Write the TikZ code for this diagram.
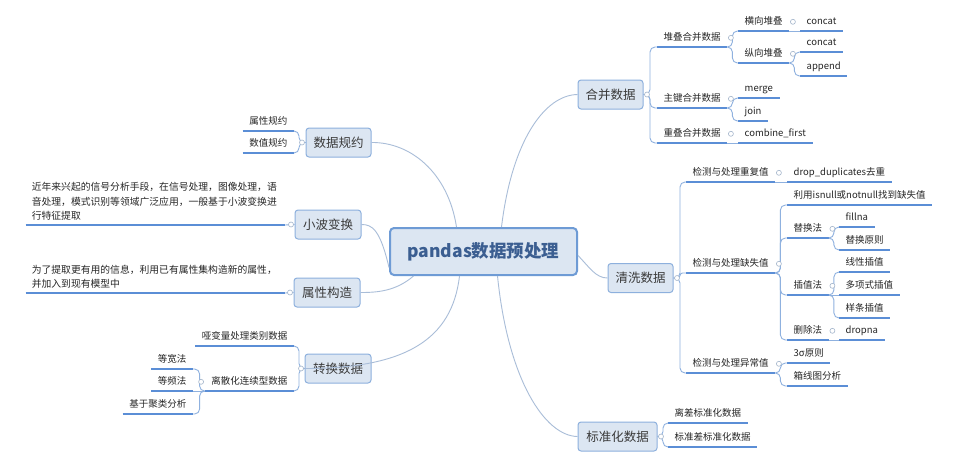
\documentclass[tikz,border=0pt]{standalone}
\usepackage{fontspec}
\setmainfont{Noto Sans CJK SC}
\usetikzlibrary{calc}
\definecolor{ulc}{HTML}{5B8ED6}
\definecolor{brc}{HTML}{8FB1DF}
\definecolor{cnc}{HTML}{A9BDD8}
\definecolor{boxf}{HTML}{DCE6F2}
\definecolor{boxd}{HTML}{8DB0DD}
\definecolor{cend}{HTML}{6E9BD5}
\definecolor{cent}{HTML}{3B5E91}
\definecolor{txt}{HTML}{262626}
\definecolor{toptxt}{HTML}{3A3A3A}
\definecolor{dotc}{HTML}{A3B5CB}
\begin{document}
\begin{tikzpicture}[x=1pt,y=-1pt,
 lab/.style={font=\fontsize{9.5}{11}\selectfont, text=txt, inner xsep=6.5pt, inner ysep=4pt, text height=8pt, text depth=2pt},
 longlab/.style={font=\fontsize{9.8}{14.5}\selectfont, text=txt, inner xsep=6pt, inner ysep=4pt, align=left, text width=247pt},
 topic/.style={draw=boxd, fill=boxf, line width=1pt, rounded corners=3pt, font=\fontsize{12.5}{14}\selectfont, text=toptxt, minimum height=29pt, minimum width=65pt, inner sep=0pt},
 ctr/.style={draw=cend, fill=boxf, line width=2pt, rounded corners=4pt, font=\fontsize{17.5}{20}\selectfont\bfseries, text=cent, minimum width=187pt, minimum height=47pt, inner sep=0pt},
 ul/.style={draw=ulc, line width=1.6pt},
 br/.style={draw=brc, line width=0.9pt, rounded corners=5pt},
 cn/.style={draw=cnc, line width=0.9pt},
 dot/.style={draw=dotc, fill=white, line width=0.6pt}]
\path[use as bounding box, fill=white] (0,0) rectangle (965,467);

% central
\node[ctr] (c) at (483.5,251.5) {pandas数据预处理};

% main topics
\node[topic] (hb) at (610.5,94.5) {合并数据};
\node[topic] (qx) at (640.5,278) {清洗数据};
\node[topic, minimum width=79pt] (bz) at (617.5,436.5) {标准化数据};
\node[topic] (sj) at (338.5,142.5) {数据规约};
\node[topic, minimum width=66pt] (xb) at (328,224.5) {小波变换};
\node[topic, minimum width=66pt] (sg) at (327,292.5) {属性构造};
\node[topic, minimum width=66pt] (zh) at (338,368.5) {转换数据};

% central connectors
\draw[cn] ([xshift=18pt]c.north) .. controls (512,140) and (545,95) .. (hb.west);
\draw[cn] ([yshift=-4pt]c.east) .. controls (590,268) and (596,278) .. (qx.west);
\draw[cn] ([xshift=14pt]c.south) .. controls (508,380) and (545,436) .. (bz.west);
\draw[cn] ([xshift=-27pt]c.north) .. controls (448,172) and (410,142) .. (sj.east);
\draw[cn] ([yshift=-16pt]c.west) .. controls (380,229) and (372,224.5) .. (xb.east);
\draw[cn] ([xshift=-70pt]c.south) .. controls (396,291) and (378,292.5) .. (sg.east);
\draw[cn] ([xshift=-24pt]c.south) .. controls (452,340) and (405,368.5) .. (zh.west);

% ---- 合并数据
\node[lab, anchor=south west] (dd) at (657,47) {堆叠合并数据};
\node[lab, anchor=south west] (hx) at (738,31) {横向堆叠};
\node[lab, anchor=south west] (c1) at (800,31) {concat};
\node[lab, anchor=south west] (zx) at (738,63) {纵向堆叠};
\node[lab, anchor=south west] (c2) at (800,52) {concat};
\node[lab, anchor=south west] (ap) at (800,76) {append};
\node[lab, anchor=south west] (zj) at (657,108) {主键合并数据};
\node[lab, anchor=south west] (mg) at (738,98) {merge};
\node[lab, anchor=south west] (jn) at (738,121) {join};
\node[lab, anchor=south west] (cd) at (657,143) {重叠合并数据};
\node[lab, anchor=south west] (cf) at (738,143) {combine\_first};

% ---- 清洗数据
\node[lab, anchor=south west] (cf1) at (686,182) {检测与处理重复值};
\node[lab, anchor=south west] (dup) at (787,182) {drop\_duplicates去重};
\node[lab, anchor=south west] (qs) at (686,273) {检测与处理缺失值};
\node[lab, anchor=south west] (isn) at (787,205) {利用isnull或notnull找到缺失值};
\node[lab, anchor=south west] (th) at (787,238) {替换法};
\node[lab, anchor=south west] (fil) at (839,227) {fillna};
\node[lab, anchor=south west] (thy) at (839,250) {替换原则};
\node[lab, anchor=south west] (cz) at (787,295) {插值法};
\node[lab, anchor=south west] (xx) at (839,272) {线性插值};
\node[lab, anchor=south west] (dx) at (839,295) {多项式插值};
\node[lab, anchor=south west] (yt) at (839,318) {样条插值};
\node[lab, anchor=south west] (sc) at (787,340) {删除法};
\node[lab, anchor=south west] (dn) at (839,340) {dropna};
\node[lab, anchor=south west] (yc) at (686,373) {检测与处理异常值};
\node[lab, anchor=south west] (sgm) at (787,363) {3σ原则};
\node[lab, anchor=south west] (xxt) at (787,386) {箱线图分析};

% ---- 标准化数据
\node[lab, anchor=south west] (lc) at (668,423) {离差标准化数据};
\node[lab, anchor=south west] (bzc) at (668,447) {标准差标准化数据};

% ---- left side
\node[lab, anchor=south east] (sx) at (294,131) {属性规约};
\node[lab, anchor=south east] (sz) at (294,153) {数值规约};
\node[longlab, anchor=south east] (wb) at (285,225) {近年来兴起的信号分析手段，在信号处理，图像处理，语\\音处理，模式识别等领域广泛应用，一般基于小波变换进\\行特征提取};
\node[longlab, anchor=south east] (gz) at (285,293) {为了提取更有用的信息，利用已有属性集构造新的属性，\\并加入到现有模型中};
\node[lab, anchor=south east] (yb) at (294,346) {哑变量处理类别数据};
\node[lab, anchor=south east] (ls) at (294,391) {离散化连续型数据};
\node[lab, anchor=south east] (dk) at (193,369) {等宽法};
\node[lab, anchor=south east] (dp) at (193,391) {等频法};
\node[lab, anchor=south east] (jy) at (193,414) {基于聚类分析};

% underlines
\foreach \n in {dd,hx,c1,zx,c2,ap,zj,mg,jn,cd,cf,cf1,dup,qs,isn,th,fil,thy,cz,xx,dx,yt,sc,dn,yc,sgm,xxt,lc,bzc,sx,sz,wb,gz,yb,ls,dk,dp,jy}
  \draw[ul] (\n.south west) -- (\n.south east);

% brackets: right side
\coordinate (Jhb) at (650,94.5);
\foreach \k in {dd,zj,cd} \draw[br] (hb.east) -- (Jhb) |- (\k.south west);
\coordinate (Jdd) at ($(dd.south east)+(5,0)$);
\foreach \k in {hx,zx} \draw[br] (dd.south east) -- (Jdd) |- (\k.south west);
\draw[br] (hx.south east) -- (c1.south west);
\coordinate (Jzx) at ($(zx.south east)+(5,0)$);
\foreach \k in {c2,ap} \draw[br] (zx.south east) -- (Jzx) |- (\k.south west);
\coordinate (Jzj) at ($(zj.south east)+(5,0)$);
\foreach \k in {mg,jn} \draw[br] (zj.south east) -- (Jzj) |- (\k.south west);
\draw[br] (cd.south east) -- (cf.south west);

\coordinate (Jqx) at (680,278);
\foreach \k in {cf1,yc} \draw[br] (qx.east) -- (Jqx) |- (\k.south west);
\draw[br, rounded corners=2.5pt] (qx.east) -- (Jqx) |- (qs.south west);
\draw[br] (cf1.south east) -- (dup.south west);
\coordinate (Jqs) at ($(qs.south east)+(5,0)$);
\foreach \k in {isn,th,cz,sc} \draw[br] (qs.south east) -- (Jqs) |- (\k.south west);
\coordinate (Jth) at ($(th.south east)+(5,0)$);
\foreach \k in {fil,thy} \draw[br] (th.south east) -- (Jth) |- (\k.south west);
\coordinate (Jcz) at ($(cz.south east)+(5,0)$);
\foreach \k in {xx,yt} \draw[br] (cz.south east) -- (Jcz) |- (\k.south west);
\draw[br] (cz.south east) -- (dx.south west);
\draw[br] (sc.south east) -- (dn.south west);
\coordinate (Jyc) at ($(yc.south east)+(5,0)$);
\foreach \k in {sgm,xxt} \draw[br] (yc.south east) -- (Jyc) |- (\k.south west);

\coordinate (Jbz) at (663,436.5);
\foreach \k in {lc,bzc} \draw[br] (bz.east) -- (Jbz) |- (\k.south west);

% brackets: left side
\coordinate (Jsj) at (299,142.5);
\foreach \k in {sx,sz} \draw[br] (sj.west) -- (Jsj) |- (\k.south east);
\draw[br] (xb.west) -- (wb.south east);
\draw[br] (sg.west) -- (gz.south east);
\coordinate (Jzh) at (299,368.5);
\foreach \k in {yb,ls} \draw[br] (zh.west) -- (Jzh) |- (\k.south east);
\coordinate (Jls) at ($(ls.south west)+(-5,0)$);
\foreach \k in {dk,jy} \draw[br] (ls.south west) -- (Jls) |- (\k.south east);
\draw[br] (ls.south west) -- (dp.south east);

% collapse dots
\foreach \n in {hb,qx,bz} \draw[dot] ([xshift=3.5pt]\n.east) circle (2.5pt);
\foreach \n in {sj,xb,sg,zh} \draw[dot] ([xshift=-3.5pt]\n.west) circle (2.5pt);
\foreach \n in {dd,hx,zx,zj,cd,cf1,qs,th,cz,sc,yc} \draw[dot] ([xshift=3.5pt]\n.east) circle (2.5pt);
\draw[dot] ([xshift=-3.5pt]ls.west) circle (2.5pt);
\end{tikzpicture}
\end{document}
